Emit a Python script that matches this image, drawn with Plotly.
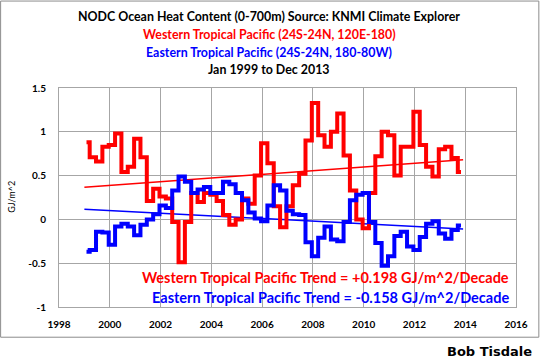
import numpy as np
import plotly.graph_objects as go

# Quarterly values, Q1 1999 .. Q4 2013 (GJ/m^2)
west = [0.88, 0.71, 0.66, 0.83, 0.85, 0.98, 0.54, 0.60, 0.92, 0.71,
        0.21, 0.35, 0.26, 0.24, -0.03, -0.49, -0.03, 0.30, 0.20, 0.30,
        0.28, 0.21, 0.05, -0.06, 0.00, 0.24, 0.18, 0.50, 0.87, 0.64,
        0.15, -0.09, 0.15, 0.39, 0.52, 0.90, 1.33, 0.96, 0.83, 1.00,
        1.21, 0.73, 0.33, 0.00, -0.10, 0.30, 0.72, 1.00, 0.96, 0.50,
        0.83, 0.83, 1.23, 0.85, 0.60, 0.49, 0.80, 0.83, 0.70, 0.54]
east = [-0.37, -0.35, -0.14, -0.15, -0.29, -0.08, -0.05, -0.08, -0.18, -0.06,
        0.00, 0.06, 0.16, 0.13, 0.33, 0.49, 0.43, 0.30, 0.34, 0.37,
        0.30, 0.30, 0.43, 0.40, 0.30, 0.22, 0.08, 0.01, -0.02, 0.16,
        0.39, 0.33, 0.10, 0.06, 0.05, -0.26, -0.42, -0.21, -0.08, -0.23,
        -0.25, -0.03, 0.22, 0.28, 0.30, -0.03, -0.27, -0.53, -0.42, -0.19,
        -0.14, -0.31, -0.35, -0.20, -0.05, -0.02, -0.16, -0.22, -0.12, -0.07]
start_year = 1999
x_ticks = list(range(1998, 2017, 2))
y_ticks = [-1, -0.5, 0, 0.5, 1, 1.5]
y_tick_text = ["-1", "-0.5", "0", "0.5", "1", "1.5"]

n = len(west)
# quarter centres (middle month of each quarter) in decimal years
x = start_year + (np.arange(n) * 3 + 1) / 12.0
span = np.array([start_year, start_year + n / 4.0 - 1 / 12.0])

pw = np.polyfit(x, west, 1)
pe = np.polyfit(x, east, 1)

RED = "#ff0000"
BLUE = "#0000ff"
FONT = "Lato"

fig = go.Figure()
fig.add_trace(go.Scatter(x=span, y=np.polyval(pw, span), mode="lines",
                         line=dict(color=RED, width=1.5), hoverinfo="skip"))
fig.add_trace(go.Scatter(x=span, y=np.polyval(pe, span), mode="lines",
                         line=dict(color=BLUE, width=1.5), hoverinfo="skip"))
fig.add_trace(go.Scatter(x=x, y=west, mode="lines", line_shape="hvh",
                         line=dict(color=RED, width=4)))
fig.add_trace(go.Scatter(x=x, y=east, mode="lines", line_shape="hvh",
                         line=dict(color=BLUE, width=4)))

W, H = 540, 359
L, R, T, B = 59.3, 515.7, 87.9, 306.8


def px(xp):
    return (xp - L) / (R - L)


def py(yp):
    return (B - yp) / (B - T)


titles = [("NODC Ocean Heat Content (0-700m) Source: KNMI Climate Explorer", "#000000", 16.5),
          ("Western Tropical Pacific (24S-24N, 120E-180)", RED, 34.5),
          ("Eastern Tropical Pacific (24S-24N, 180-80W)", BLUE, 52.4),
          ("Jan 1999 to Dec 2013", "#000000", 69)]
ann = []
for txt, col, yy in titles:
    ann.append(dict(text=txt, x=px(269.5), y=py(yy), xref="paper", yref="paper",
                    xanchor="center", yanchor="middle", showarrow=False,
                    font=dict(family=FONT, size=12.4, color=col, weight="bold")))

ann.append(dict(text="Western Tropical Pacific Trend = +0.198 GJ/m^2/Decade",
                x=px(511), y=py(277.6), xref="paper", yref="paper",
                xanchor="right", yanchor="middle", showarrow=False,
                font=dict(family=FONT, size=14.5, color=RED, weight="bold")))
ann.append(dict(text="Eastern Tropical Pacific Trend = -0.158 GJ/m^2/Decade",
                x=px(511), y=py(297.6), xref="paper", yref="paper",
                xanchor="right", yanchor="middle", showarrow=False,
                font=dict(family=FONT, size=14.5, color=BLUE, weight="bold")))
ann.append(dict(text="GJ/m^2", x=px(12), y=py(197), xref="paper", yref="paper",
                xanchor="center", yanchor="middle", showarrow=False, textangle=-90,
                font=dict(family=FONT, size=9, color="#000000")))
ann.append(dict(text="Bob Tisdale", x=px(534), y=py(351.5), xref="paper", yref="paper",
                xanchor="right", yanchor="middle", showarrow=False,
                font=dict(family="DejaVu Sans", size=13, color="#000000", weight="bold")))

shapes = [dict(type="rect", xref="paper", yref="paper",
               x0=px(1), x1=px(538.5), y0=py(337), y1=py(1),
               line=dict(color="#8c8c8c", width=1), fillcolor="rgba(0,0,0,0)")]

fig.update_layout(
    width=W, height=H,
    margin=dict(l=L, r=W - R, t=T, b=H - B),
    paper_bgcolor="white", plot_bgcolor="white",
    showlegend=False,
    annotations=ann, shapes=shapes,
    xaxis=dict(range=[1998, 2016], tickvals=x_ticks, showgrid=True,
               gridcolor="#a6a6a6", gridwidth=1, zeroline=False,
               showline=True, linecolor="#a6a6a6", mirror=True,
               ticks="", tickfont=dict(family=FONT, size=10, color="#000000", weight="bold"),
               ticklabelstandoff=8),
    yaxis=dict(range=[-1, 1.5], tickvals=y_ticks, ticktext=y_tick_text, showgrid=True,
               gridcolor="#a6a6a6", gridwidth=1, zeroline=False,
               showline=True, linecolor="#a6a6a6", mirror=True,
               ticks="", tickfont=dict(family=FONT, size=10, color="#000000", weight="bold"),
               ticklabelstandoff=10),
)

fig.write_html("out.html", config={"displayModeBar": False},
               post_script="document.body.style.margin='0px';document.body.style.overflow='hidden';")
